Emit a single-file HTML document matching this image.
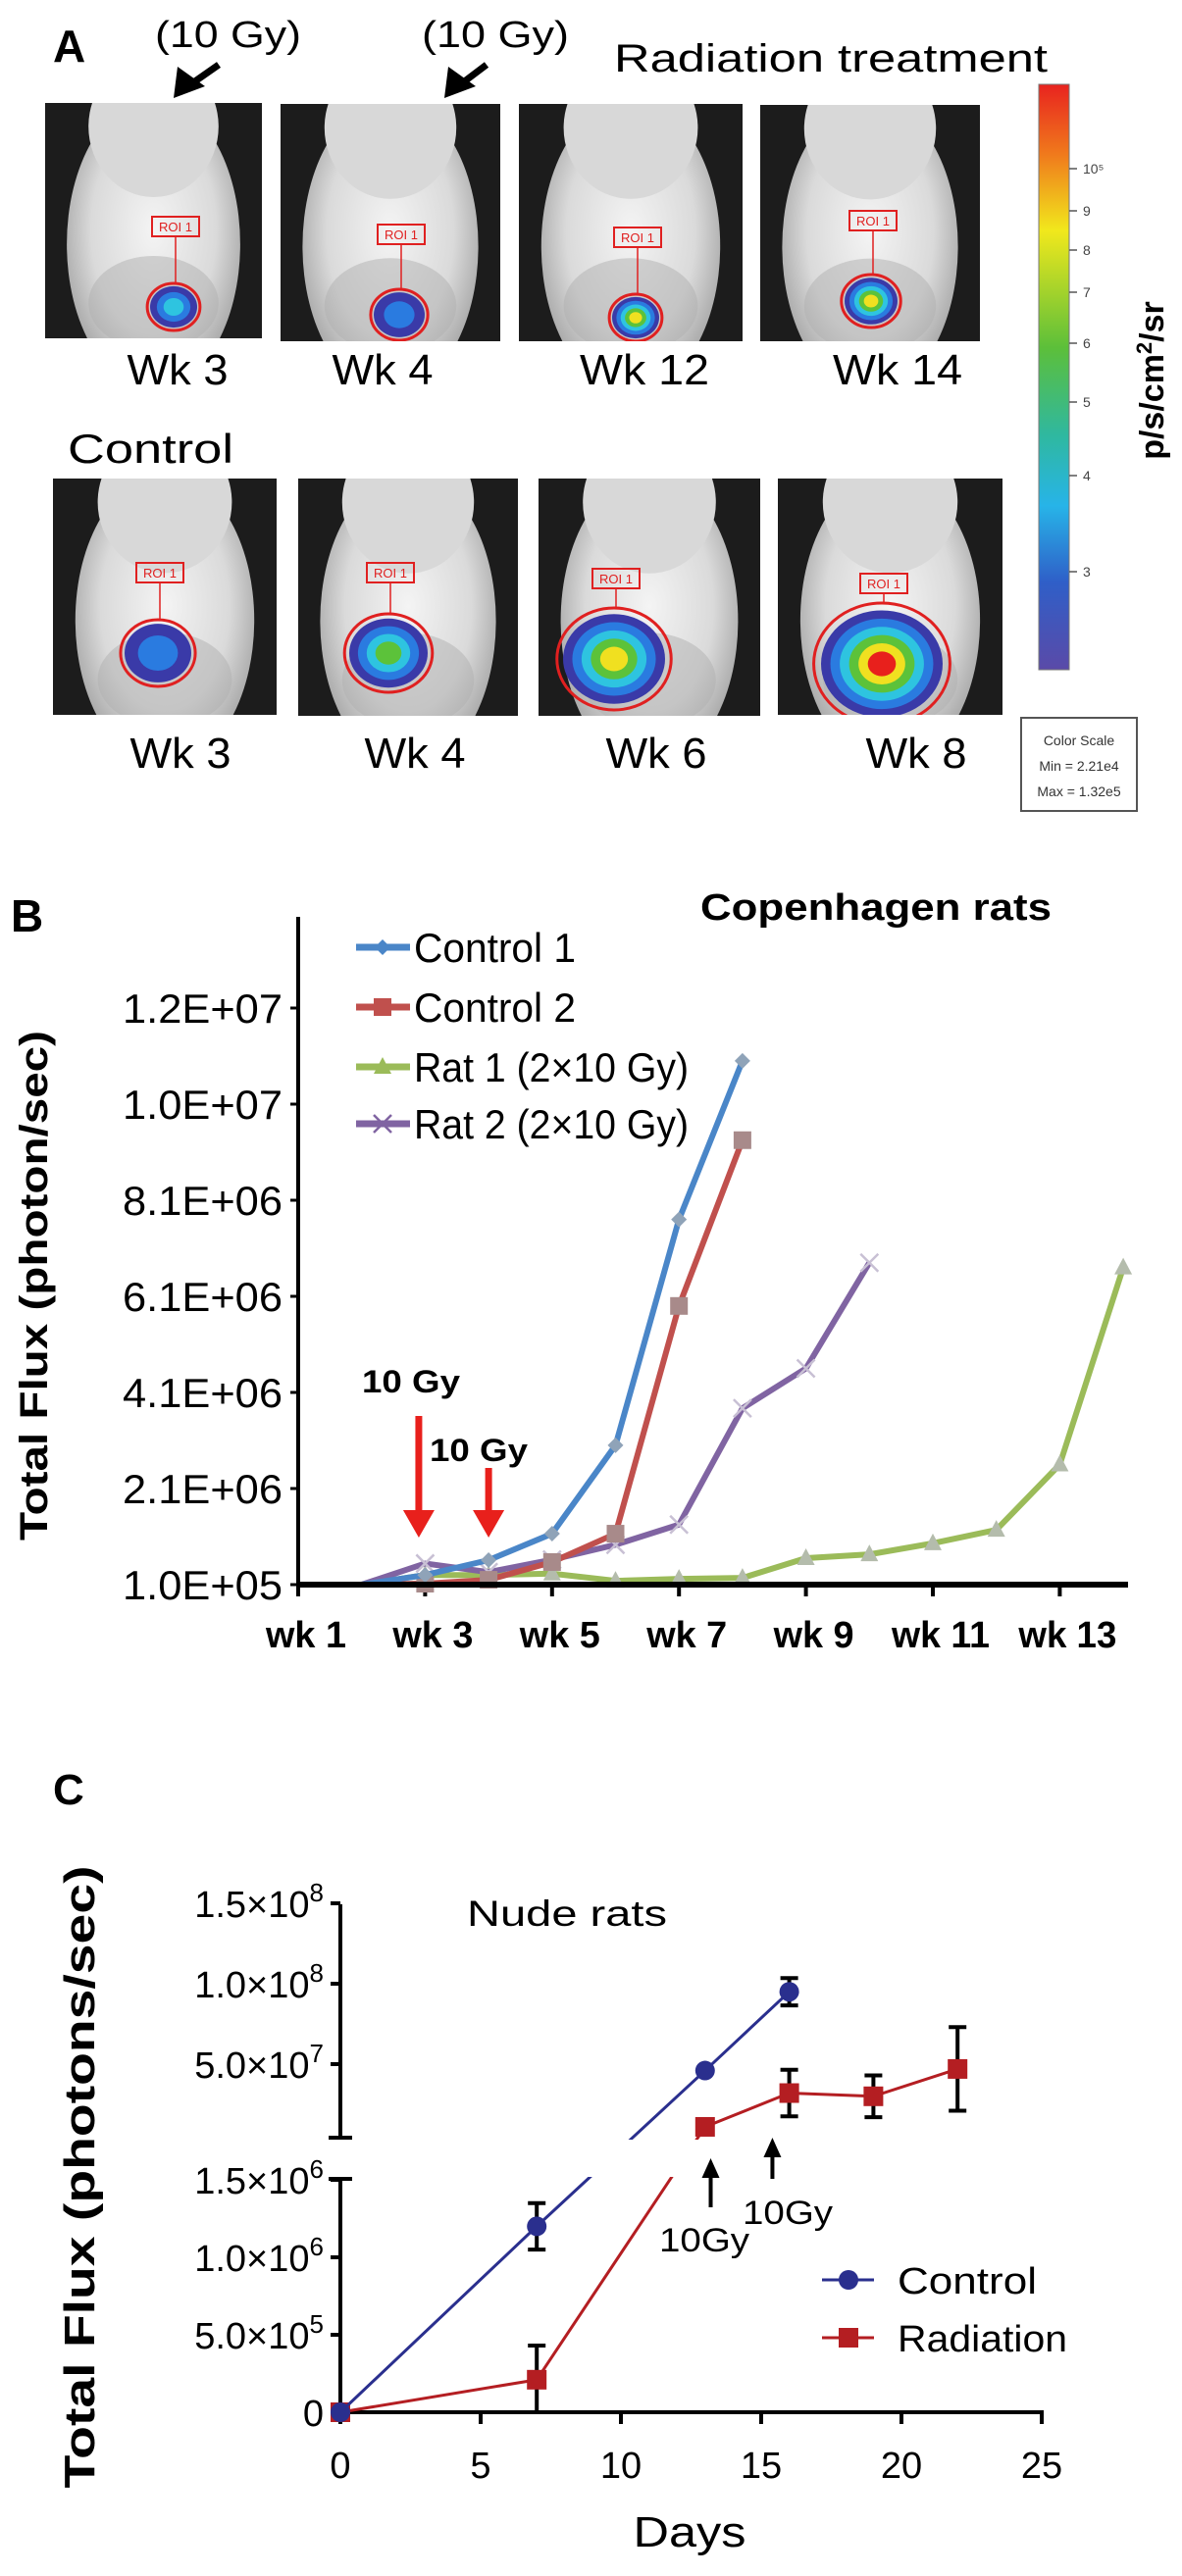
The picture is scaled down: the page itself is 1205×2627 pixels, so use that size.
<!DOCTYPE html>
<html><head><meta charset="utf-8"><title>Figure</title>
<style>
html,body{margin:0;padding:0;background:#fff;}
svg{display:block;}
text{font-family:"Liberation Sans",Arial,sans-serif;}
</style></head>
<body>
<svg id="fig" xmlns="http://www.w3.org/2000/svg" width="1205" height="2627" viewBox="0 0 1205 2627">
<defs>
  <radialGradient id="bodyGrad" cx="50%" cy="45%" r="60%">
    <stop offset="0" stop-color="#f4f4f4"/><stop offset="0.6" stop-color="#dadada"/><stop offset="1" stop-color="#9a9a9a"/>
  </radialGradient>
  <linearGradient id="cbar" x1="0" y1="0" x2="0" y2="1">
    <stop offset="0" stop-color="#e8231f"/><stop offset="0.12" stop-color="#f07a1c"/><stop offset="0.25" stop-color="#f1e81c"/>
    <stop offset="0.45" stop-color="#5cbf3a"/><stop offset="0.6" stop-color="#2fb8a0"/><stop offset="0.72" stop-color="#27b4e8"/>
    <stop offset="0.85" stop-color="#2f5fc8"/><stop offset="1" stop-color="#5a4aa8"/>
  </linearGradient>
  <clipPath id="clipC"><rect x="300" y="1900" width="800" height="282"/><rect x="300" y="2220" width="800" height="300"/></clipPath>
</defs>

<g>
  <text x="54" y="63" font-size="46" font-weight="bold">A</text>
  <text x="158" y="48" font-size="38" textLength="149" lengthAdjust="spacingAndGlyphs">(10 Gy)</text>
  <text x="430" y="48" font-size="38" textLength="150" lengthAdjust="spacingAndGlyphs">(10 Gy)</text>
  <text x="626" y="73" font-size="40" textLength="442" lengthAdjust="spacingAndGlyphs">Radiation treatment</text>
  <text x="69" y="472" font-size="42" textLength="169" lengthAdjust="spacingAndGlyphs">Control</text>
  <g id="photos"></g>
  <rect x="1059" y="86" width="31" height="597" fill="url(#cbar)" stroke="#777" stroke-width="1"/>
  <g id="cbticks"></g>
  <text transform="translate(1186,388) rotate(-90)" text-anchor="middle" font-size="34" font-weight="bold">p/s/cm<tspan font-size="22" dy="-12">2</tspan><tspan dy="12">/sr</tspan></text>
  <g>
    <rect x="1041" y="732" width="118" height="95" fill="#fff" stroke="#555" stroke-width="2"/>
    <text x="1100" y="760" font-size="14" text-anchor="middle" fill="#333">Color Scale</text>
    <text x="1100" y="786" font-size="14" text-anchor="middle" fill="#333">Min = 2.21e4</text>
    <text x="1100" y="812" font-size="14" text-anchor="middle" fill="#333">Max = 1.32e5</text>
  </g>
</g>

<g id="panelB">
  <text x="11" y="950" font-size="46" font-weight="bold">B</text>
  <text x="714" y="938" font-size="38" font-weight="bold" textLength="358" lengthAdjust="spacingAndGlyphs">Copenhagen rats</text>
  <text transform="translate(48,1311) rotate(-90)" text-anchor="middle" font-size="40" font-weight="bold" textLength="520" lengthAdjust="spacingAndGlyphs">Total Flux (photon/sec)</text>
</g>

<g id="panelC">
  <text x="54" y="1840" font-size="44" font-weight="bold">C</text>
  <text x="476" y="1964" font-size="37" textLength="204" lengthAdjust="spacingAndGlyphs">Nude rats</text>
  <text transform="translate(96,2220) rotate(-90)" text-anchor="middle" font-size="44" font-weight="bold" textLength="635" lengthAdjust="spacingAndGlyphs">Total Flux (photons/sec)</text>
  <text x="703" y="2597" font-size="44" text-anchor="middle" textLength="115" lengthAdjust="spacingAndGlyphs">Days</text>
</g>
</svg>

<script>
// ---------- Panel B data ----------
const weekLabels = ["wk 1","wk 3","wk 5","wk 7","wk 9","wk 11","wk 13"];
const weekTickWeeks = [1,3,5,7,9,11,13];
const bTickValues = [1e5,2.1e6,4.1e6,6.1e6,8.1e6,1.01e7,1.21e7];
const bTickLabels = ["1.0E+05","2.1E+06","4.1E+06","6.1E+06","8.1E+06","1.0E+07","1.2E+07"];
const control1 = [1e5,1e5,3e5,6.1e5,1.16e6,3.0e6,7.7e6,1.1e7];
const control2 = [1e5,1e5,1.2e5,2e5,5.7e5,1.16e6,5.9e6,9.35e6];
const rat1 = [1e5,1e5,3e5,3e5,3.3e5,1.8e5,2.2e5,2.4e5,6.5e5,7.3e5,9.6e5,1.24e6,2.6e6,6.7e6];
const rat2 = [1e5,1e5,5.4e5,3.6e5,6.2e5,9.3e5,1.35e6,3.77e6,4.6e6,6.8e6];
const bSeriesNames = ["Control 1","Control 2","Rat 1  (2\u00d710  Gy)","Rat 2  (2\u00d710  Gy)"];
const doseWeeks = [2.9, 4.0];

// ---------- Panel C data ----------
const cDaysControl = [0,7,13,16];
const cControl = [0,1.2e6,4.6e7,9.5e7];
const cControlErr = [0,1.5e5,0,8.5e6];
const cDaysRad = [0,7,13,16,19,22];
const cRadiation = [0,2.1e5,1.1e7,3.2e7,3.0e7,4.7e7];
const cRadiationErr = [0,2.2e5,0,1.45e7,1.3e7,2.6e7];
const cXTicks = [0,5,10,15,20,25];
const cLowTicks = [0,5e5,1e6,1.5e6];
const cLowLabels = [["0",""],["5.0\u00d710","5"],["1.0\u00d710","6"],["1.5\u00d710","6"]];
const cHighTicks = [5e7,1e8,1.5e8];
const cHighLabels = [["5.0\u00d710","7"],["1.0\u00d710","8"],["1.5\u00d710","8"]];
const cDoseDays = [13.2,15.4];

const NS='http://www.w3.org/2000/svg';
const svg=document.getElementById('fig');
const defs=svg.querySelector('defs');
function mk(tag,attrs,parent){const e=document.createElementNS(NS,tag);for(const k in attrs)e.setAttribute(k,attrs[k]);(parent||svg).appendChild(e);return e;}

// ================= Panel A photos =================
const photos=document.getElementById('photos');
const photoSpecs=[
 {x:46,y:105,w:221,h:240,bx:177,by:313,r:24,lv:2,lbl:"Wk 3",lx:181,ly:392,lw:103},
 {x:286,y:106,w:224,h:242,bx:407,by:321,r:26,lv:1,lbl:"Wk 4",lx:390,ly:392,lw:103},
 {x:529,y:106,w:228,h:242,bx:648,by:324,r:24,lv:4,lbl:"Wk 12",lx:657,ly:392,lw:132},
 {x:775,y:107,w:224,h:241,bx:888,by:307,r:27,lv:4,lbl:"Wk 14",lx:915,ly:392,lw:132},
 {x:54,y:488,w:228,h:241,bx:161,by:666,r:34,lv:1,lbl:"Wk 3",lx:184,ly:783,lw:103},
 {x:304,y:488,w:224,h:242,bx:396,by:666,r:40,lv:3,lbl:"Wk 4",lx:423,ly:783,lw:103},
 {x:549,y:488,w:226,h:242,bx:626,by:672,r:52,lv:4,lbl:"Wk 6",lx:669,ly:783,lw:103},
 {x:793,y:488,w:229,h:241,bx:899,by:677,r:62,lv:5,lbl:"Wk 8",lx:934,ly:783,lw:103}
];
const blobColors=["#3a3aa8","#2a7be0","#2ec4e0","#5cc23a","#f0e020","#e8201c"];
photoSpecs.forEach((p,i)=>{
  const cp=mk('clipPath',{id:'ph'+i},defs);
  mk('rect',{x:p.x,y:p.y,width:p.w,height:p.h},cp);
  const g=mk('g',{"clip-path":'url(#ph'+i+')'},photos);
  
  
  mk('rect',{x:p.x,y:p.y,width:p.w,height:p.h,fill:'#1c1c1c'},g);
  const cx=p.x+p.w/2;
  mk('ellipse',{cx:cx,cy:p.y+p.h*0.6,rx:p.w*0.4,ry:p.h*0.62,fill:'url(#bodyGrad)'},g);
  mk('ellipse',{cx:cx,cy:p.y+p.h*0.1,rx:p.w*0.3,ry:p.h*0.3,fill:'#d8d8d8'},g);
  mk('ellipse',{cx:cx,cy:p.y+p.h*0.85,rx:p.w*0.3,ry:p.h*0.2,fill:'#b0b0b0',opacity:0.5},g);
  const n=p.lv+1;
  mk('ellipse',{cx:p.bx,cy:p.by,rx:p.r*1.12,ry:p.r*1.0,fill:'none',stroke:'#e02020',"stroke-width":3},g);
  for(let k=0;k<n;k++){
    const f=1-k/(n+0.5);
    mk('ellipse',{cx:p.bx,cy:p.by,rx:p.r*f,ry:p.r*0.88*f,fill:blobColors[k]},g);
  }
  const rx=p.bx-22, ry=p.by-92;
  mk('line',{x1:p.bx+2,y1:ry+20,x2:p.bx+2,y2:p.by-p.r,stroke:'#e02020',"stroke-width":1.5},g);
  mk('rect',{x:rx,y:ry,width:48,height:20,fill:'none',stroke:'#e02020',"stroke-width":2},g);
  const t=mk('text',{x:rx+24,y:ry+15,"font-size":13,fill:'#e02020',"text-anchor":'middle'},g);
  t.textContent='ROI 1';
  const lab=mk('text',{x:p.lx,y:p.ly,"font-size":44,"text-anchor":'middle',textLength:p.lw,lengthAdjust:'spacingAndGlyphs'},photos);
  
  
  lab.textContent=p.lbl;
});
[[223,66,177,100],[496,66,453,100]].forEach(a=>{
  const g=mk('g',{},photos);
  
  
  mk('line',{x1:a[0],y1:a[1],x2:a[2]+6,y2:a[3]-6,stroke:'#000',"stroke-width":7},g);
  mk('polygon',{points:`${a[2]},${a[3]} ${a[2]+4},${a[3]-32} ${a[2]+32},${a[3]-12}`,fill:'#000'},g);
});
const cbLabels=["10\u2075","9","8","7","6","5","4","3"];
const cbY=[172,215,255,298,350,410,485,583];
const cbt=document.getElementById('cbticks');
cbLabels.forEach((l,i)=>{
  mk('line',{x1:1090,y1:cbY[i],x2:1098,y2:cbY[i],stroke:'#555',"stroke-width":1.5},cbt);
  const t=mk('text',{x:1104,y:cbY[i]+5,"font-size":14,fill:'#444'},cbt);
  
  
  t.textContent=l;
});

// ================= Panel B chart =================
const pB=document.getElementById('panelB');
const bX=w=>304+(w-1)*64.7;
const bY=v=>1616-(v-1e5)/2e6*98;
const yAxB=mk('line',{x1:304,y1:935,x2:304,y2:1618,stroke:'#000',"stroke-width":4},pB);


bTickValues.forEach((v,i)=>{
  mk('line',{x1:296,y1:bY(v),x2:304,y2:bY(v),stroke:'#000',"stroke-width":3},pB);
  const t=mk('text',{x:288,y:bY(v)+15,"font-size":42,"text-anchor":'end',textLength:163,lengthAdjust:'spacingAndGlyphs'},pB);
  
  
  t.textContent=bTickLabels[i];
});
weekTickWeeks.forEach((w,i)=>{
  mk('line',{x1:bX(w),y1:1616,x2:bX(w),y2:1628,stroke:'#000',"stroke-width":4},pB);
  const t=mk('text',{x:bX(w)+8,y:1680,"font-size":38,"font-weight":'bold',"text-anchor":'middle',textLength:(i>=5?100:82),lengthAdjust:'spacingAndGlyphs'},pB);
  
  
  t.textContent=weekLabels[i];
});
const bColors=["#4a86c8","#c0504d","#9bbb59","#8064a2"];
const bMarkerColors=["#8fa3b8","#a88a8a","#b4bcac","#c8c0d4"];
const bData=[control1,control2,rat1,rat2];
function bMarker(kind,x,y,parent,color){
  let m;
  if(kind===0) m=mk('polygon',{points:`${x},${y-8} ${x+8},${y} ${x},${y+8} ${x-8},${y}`,fill:color},parent);
  else if(kind===1) m=mk('rect',{x:x-9,y:y-9,width:18,height:18,fill:color},parent);
  else if(kind===2) m=mk('polygon',{points:`${x},${y-10} ${x+9},${y+7} ${x-9},${y+7}`,fill:color},parent);
  else { m=mk('path',{d:`M${x-9},${y-9}L${x+9},${y+9}M${x+9},${y-9}L${x-9},${y+9}`,stroke:color,"stroke-width":2.5,fill:'none'},parent); }
  return m;
}
[2,3,1,0].forEach(s=>{
  const vals=bData[s];
  const g=mk('g',{},pB);
  
  
  const pts=vals.map((v,i)=>bX(i+1)+','+bY(v)).join(' ');
  const pl=mk('polyline',{points:pts,fill:'none',stroke:bColors[s],"stroke-width":6,"stroke-linejoin":'round'},g);
  
  
  vals.forEach((v,i)=>{
    if(i<2) return;
    const m=bMarker(s,bX(i+1),bY(v),g,bMarkerColors[s]);
    
    
  });
});
const xAxB=mk('line',{x1:302,y1:1616,x2:1150,y2:1616,stroke:'#000',"stroke-width":6},pB);


const legY=[966,1027,1088,1146];
bSeriesNames.forEach((n,i)=>{
  const g=mk('g',{},pB);
  
  
  mk('line',{x1:363,y1:legY[i],x2:418,y2:legY[i],stroke:bColors[i],"stroke-width":7},g);
  bMarker(i,390,legY[i],g,bColors[i]);
  const t=mk('text',{x:422,y:legY[i]+15,"font-size":42,textLength:(i<2?165:280),lengthAdjust:'spacingAndGlyphs'},g);
  t.textContent=n;
});
const doseTextY=[1420,1490];
const doseTopY=[1444,1497];
doseWeeks.forEach((w,i)=>{
  const g=mk('g',{},pB);
  
  
  const x=bX(w);
  mk('line',{x1:x,y1:doseTopY[i],x2:x,y2:1550,stroke:'#e8201c',"stroke-width":7},g);
  mk('polygon',{points:`${x-16},${1540} ${x+16},${1540} ${x},${1568}`,fill:'#e8201c'},g);
  const t=mk('text',{x:(i===0?369:438),y:doseTextY[i],"font-size":32,"font-weight":'bold',textLength:100,lengthAdjust:'spacingAndGlyphs'},g);
  t.textContent='10 Gy';
});

// ================= Panel C chart =================
const pC=document.getElementById('panelC');
const cX=d=>347+d*28.6;
const cYlow=v=>2460-v/1e6*158;
const cYhigh=v=>2187-v/5e7*82;
const cY=v=>(v<=2e6?cYlow(v):cYhigh(v));
const ya1=mk('line',{x1:347,y1:1942,x2:347,y2:2180,stroke:'#000',"stroke-width":4},pC);


mk('line',{x1:335,y1:2180,x2:359,y2:2180,stroke:'#000',"stroke-width":4},pC);
const ya2=mk('line',{x1:347,y1:2222,x2:347,y2:2462,stroke:'#000',"stroke-width":4},pC);


mk('line',{x1:335,y1:2222,x2:359,y2:2222,stroke:'#000',"stroke-width":4},pC);
function cTickLabel(y,lab){
  mk('line',{x1:337,y1:y,x2:347,y2:y,stroke:'#000',"stroke-width":4},pC);
  const t=mk('text',{x:330,y:y+14,"font-size":38,"text-anchor":'end'},pC);
  
  
  const a=document.createElementNS(NS,'tspan');a.textContent=lab[0];t.appendChild(a);
  if(lab[1]){const b=document.createElementNS(NS,'tspan');b.setAttribute('dy','-16');b.setAttribute('font-size','26');b.textContent=lab[1];t.appendChild(b);}
}
cLowTicks.forEach((v,i)=>cTickLabel(cYlow(v),cLowLabels[i]));
cHighTicks.forEach((v,i)=>cTickLabel(cYhigh(v),cHighLabels[i]));
const xa=mk('line',{x1:345,y1:2460,x2:1064,y2:2460,stroke:'#000',"stroke-width":4},pC);


cXTicks.forEach(d=>{
  mk('line',{x1:cX(d),y1:2460,x2:cX(d),y2:2472,stroke:'#000',"stroke-width":4},pC);
  const t=mk('text',{x:cX(d),y:2527,"font-size":38,"text-anchor":'middle'},pC);
  
  
  t.textContent=String(d);
});
function cSeries(days,vals,errs,color,kind,name){
  const g=mk('g',{},pC);
  
  
  const pl=mk('polyline',{points:days.map((d,i)=>cX(d)+','+cY(vals[i])).join(' '),fill:'none',stroke:color,"stroke-width":3,"clip-path":'url(#clipC)'},g);
  
  
  days.forEach((d,i)=>{
    const x=cX(d),y=cY(vals[i]);
    if(errs[i]>0){
      const y1=cY(vals[i]+errs[i]), y2=cY(Math.max(0,vals[i]-errs[i]));
      const e=mk('path',{d:`M${x},${y1}L${x},${y2}M${x-9},${y1}L${x+9},${y1}M${x-9},${y2}L${x+9},${y2}`,stroke:'#000',"stroke-width":4,fill:'none'},g);
      
      
    }
    let m;
    if(kind===0) m=mk('circle',{cx:x,cy:y,r:10,fill:color},g);
    else m=mk('rect',{x:x-10,y:y-10,width:20,height:20,fill:color},g);
    
    
  });
}
cSeries(cDaysRad,cRadiation,cRadiationErr,'#b41e22',1,'radiation-series');
cSeries(cDaysControl,cControl,cControlErr,'#2a2f8e',0,'control-series');
const cArrowTop=[2201,2180];
const cArrowBot=[2251,2222];
const cDoseText=[[672,2296],[757,2268]];
cDoseDays.forEach((d,i)=>{
  const g=mk('g',{},pC);
  
  
  const x=cX(d);
  mk('line',{x1:x,y1:cArrowTop[i]+12,x2:x,y2:cArrowBot[i],stroke:'#000',"stroke-width":4},g);
  mk('polygon',{points:`${x-9},${cArrowTop[i]+20} ${x+9},${cArrowTop[i]+20} ${x},${cArrowTop[i]}`,fill:'#000'},g);
  const t=mk('text',{x:cDoseText[i][0],y:cDoseText[i][1],"font-size":34,textLength:92,lengthAdjust:'spacingAndGlyphs'},g);
  t.textContent='10Gy';
});
[["Control",'#2a2f8e',0,2325,142],["Radiation",'#b41e22',1,2384,173]].forEach(L=>{
  const g=mk('g',{},pC);
  
  
  mk('line',{x1:838,y1:L[3],x2:891,y2:L[3],stroke:L[1],"stroke-width":3},g);
  if(L[2]===0) mk('circle',{cx:865,cy:L[3],r:10,fill:L[1]},g);
  else mk('rect',{x:855,y:L[3]-10,width:20,height:20,fill:L[1]},g);
  const t=mk('text',{x:915,y:L[3]+14,"font-size":38,textLength:L[4],lengthAdjust:'spacingAndGlyphs'},g);
  t.textContent=L[0];
});
</script>
</body></html>
